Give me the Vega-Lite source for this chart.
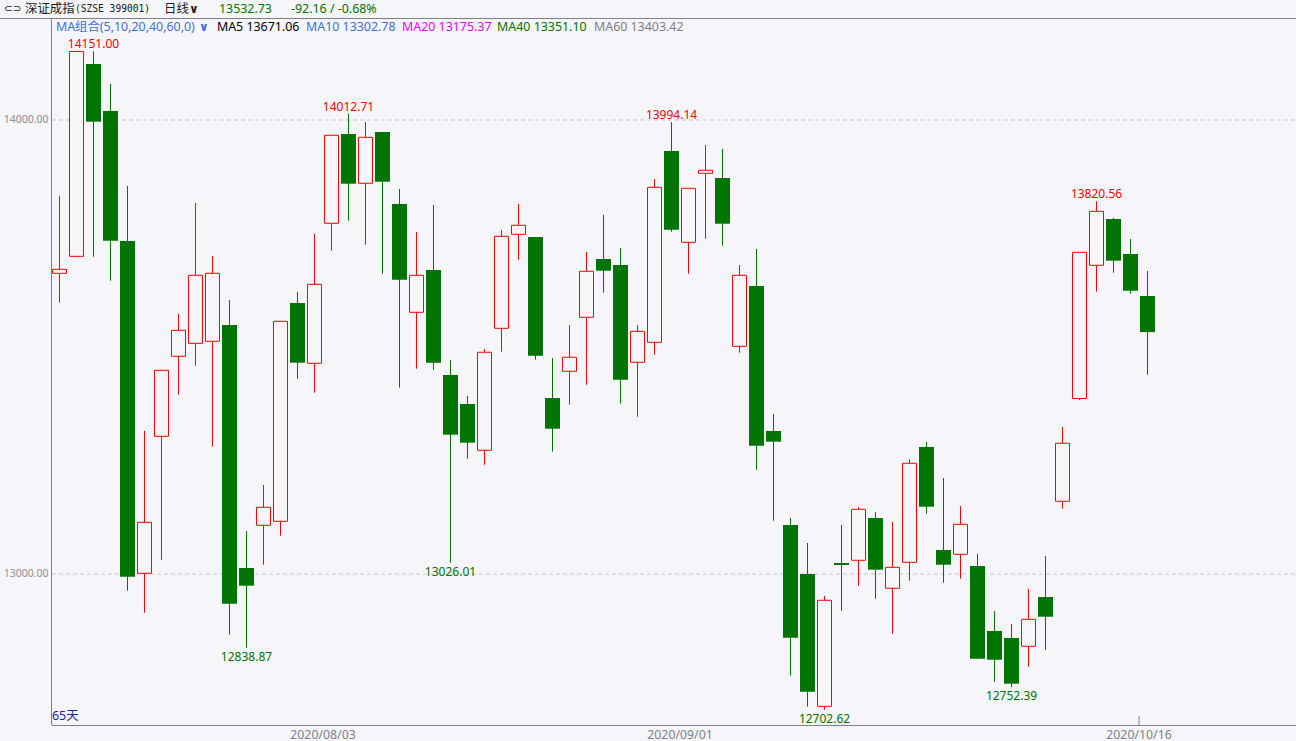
{"$schema":"https://vega.github.io/schema/vega-lite/v6.json","autosize":{"type":"none"},"padding":{"left":52,"top":18,"right":0,"bottom":16},"width":1244,"height":707,"background":"#f5f5fa","config":{"view":{"stroke":null},"axis":{"translate":0},"text":{"font":"Noto Sans"}},
"datasets":{"candles":[
{"n":0,"date":"2020-07-13","kind":"rise","o":13662.0,"h":13831.9,"l":13597.4,"c":13670.8},
{"n":1,"date":"2020-07-14","kind":"rise","o":13699.3,"h":14151.0,"l":13699.3,"c":14149.5},
{"n":2,"date":"2020-07-15","kind":"fall","o":14122.0,"h":14150.0,"l":13698.5,"c":13995.2},
{"n":3,"date":"2020-07-16","kind":"fall","o":14018.7,"h":14078.0,"l":13645.7,"c":13733.6},
{"n":4,"date":"2020-07-17","kind":"fall","o":13733.0,"h":13853.8,"l":12964.4,"c":12995.2},
{"n":5,"date":"2020-07-20","kind":"rise","o":13002.6,"h":13315.4,"l":12916.0,"c":13114.7},
{"n":6,"date":"2020-07-21","kind":"rise","o":13303.7,"h":13448.8,"l":13032.5,"c":13448.8},
{"n":7,"date":"2020-07-22","kind":"rise","o":13479.6,"h":13572.5,"l":13395.2,"c":13536.7},
{"n":8,"date":"2020-07-23","kind":"rise","o":13508.1,"h":13816.5,"l":13458.9,"c":13657.6},
{"n":9,"date":"2020-07-24","kind":"rise","o":13512.5,"h":13700.0,"l":13280.9,"c":13662.0},
{"n":10,"date":"2020-07-27","kind":"fall","o":13548.3,"h":13603.3,"l":12867.7,"c":12935.8},
{"n":11,"date":"2020-07-28","kind":"fall","o":13014.3,"h":13095.6,"l":12838.87,"c":12975.4},
{"n":12,"date":"2020-07-29","kind":"rise","o":13108.1,"h":13196.7,"l":13021.5,"c":13147.7},
{"n":13,"date":"2020-07-30","kind":"rise","o":13116.9,"h":13556.5,"l":13085.3,"c":13556.5},
{"n":14,"date":"2020-07-31","kind":"fall","o":13596.7,"h":13620.9,"l":13430.3,"c":13465.5},
{"n":15,"date":"2020-08-03","kind":"rise","o":13464.2,"h":13748.4,"l":13399.6,"c":13637.8},
{"n":16,"date":"2020-08-04","kind":"rise","o":13771.9,"h":13965.3,"l":13711.7,"c":13965.3},
{"n":17,"date":"2020-08-05","kind":"fall","o":13968.1,"h":14012.71,"l":13777.6,"c":13858.9},
{"n":18,"date":"2020-08-06","kind":"rise","o":13859.8,"h":13994.5,"l":13724.8,"c":13960.9},
{"n":19,"date":"2020-08-07","kind":"fall","o":13972.5,"h":13972.5,"l":13661.1,"c":13863.3},
{"n":20,"date":"2020-08-10","kind":"fall","o":13814.3,"h":13847.3,"l":13410.6,"c":13647.9},
{"n":21,"date":"2020-08-11","kind":"rise","o":13576.3,"h":13752.7,"l":13452.3,"c":13657.6},
{"n":22,"date":"2020-08-12","kind":"fall","o":13669.2,"h":13812.1,"l":13450.1,"c":13465.5},
{"n":23,"date":"2020-08-13","kind":"fall","o":13438.5,"h":13471.4,"l":13026.01,"c":13307.3},
{"n":24,"date":"2020-08-14","kind":"fall","o":13374.7,"h":13392.3,"l":13254.5,"c":13289.7},
{"n":25,"date":"2020-08-17","kind":"rise","o":13273.0,"h":13495.6,"l":13241.3,"c":13488.4},
{"n":26,"date":"2020-08-18","kind":"rise","o":13541.1,"h":13757.1,"l":13489.7,"c":13743.3},
{"n":27,"date":"2020-08-19","kind":"rise","o":13747.7,"h":13814.3,"l":13691.9,"c":13767.5},
{"n":28,"date":"2020-08-20","kind":"fall","o":13741.8,"h":13741.8,"l":13472.1,"c":13480.9},
{"n":29,"date":"2020-08-21","kind":"fall","o":13387.9,"h":13475.8,"l":13269.9,"c":13320.4},
{"n":30,"date":"2020-08-24","kind":"rise","o":13446.6,"h":13548.3,"l":13373.2,"c":13477.4},
{"n":31,"date":"2020-08-25","kind":"rise","o":13565.3,"h":13708.8,"l":13417.1,"c":13666.4},
{"n":32,"date":"2020-08-26","kind":"fall","o":13693.4,"h":13790.1,"l":13619.3,"c":13667.7},
{"n":33,"date":"2020-08-27","kind":"fall","o":13680.2,"h":13717.6,"l":13375.4,"c":13428.1},
{"n":34,"date":"2020-08-28","kind":"rise","o":13466.4,"h":13548.3,"l":13346.8,"c":13534.5},
{"n":35,"date":"2020-08-31","kind":"rise","o":13510.3,"h":13869.2,"l":13483.1,"c":13851.0},
{"n":36,"date":"2020-09-01","kind":"fall","o":13930.8,"h":13994.14,"l":13753.4,"c":13757.8},
{"n":37,"date":"2020-09-02","kind":"rise","o":13730.1,"h":13848.8,"l":13661.1,"c":13848.8},
{"n":38,"date":"2020-09-03","kind":"rise","o":13881.8,"h":13944.0,"l":13738.0,"c":13888.4},
{"n":39,"date":"2020-09-04","kind":"fall","o":13871.4,"h":13935.2,"l":13722.6,"c":13771.0},
{"n":40,"date":"2020-09-07","kind":"rise","o":13501.5,"h":13680.2,"l":13487.5,"c":13657.6},
{"n":41,"date":"2020-09-08","kind":"fall","o":13634.1,"h":13715.4,"l":13230.3,"c":13283.1},
{"n":42,"date":"2020-09-09","kind":"fall","o":13315.4,"h":13352.7,"l":13118.2,"c":13291.9},
{"n":43,"date":"2020-09-10","kind":"fall","o":13108.8,"h":13124.2,"l":12777.6,"c":12861.1},
{"n":44,"date":"2020-09-11","kind":"fall","o":13001.1,"h":13069.2,"l":12709.5,"c":12742.4},
{"n":45,"date":"2020-09-14","kind":"rise","o":12710.3,"h":12952.7,"l":12702.62,"c":12943.3},
{"n":46,"date":"2020-09-15","kind":"fall","o":13025.3,"h":13108.8,"l":12920.4,"c":13020.9},
{"n":47,"date":"2020-09-16","kind":"rise","o":13031.2,"h":13147.7,"l":12975.4,"c":13143.3},
{"n":48,"date":"2020-09-17","kind":"fall","o":13124.2,"h":13137.4,"l":12946.8,"c":13010.6},
{"n":49,"date":"2020-09-18","kind":"rise","o":12969.7,"h":13115.4,"l":12869.9,"c":13015.8},
{"n":50,"date":"2020-09-21","kind":"rise","o":13026.8,"h":13253.2,"l":12986.4,"c":13244.4},
{"n":51,"date":"2020-09-22","kind":"fall","o":13280.2,"h":13291.2,"l":13133.6,"c":13149.0},
{"n":52,"date":"2020-09-23","kind":"fall","o":13053.8,"h":13212.1,"l":12982.0,"c":13021.5},
{"n":53,"date":"2020-09-24","kind":"rise","o":13044.4,"h":13150.6,"l":12990.8,"c":13110.3},
{"n":54,"date":"2020-09-25","kind":"fall","o":13018.7,"h":13045.1,"l":12815.0,"c":12815.0},
{"n":55,"date":"2020-09-28","kind":"fall","o":12875.8,"h":12919.8,"l":12764.4,"c":12812.7},
{"n":56,"date":"2020-09-29","kind":"fall","o":12860.4,"h":12891.2,"l":12752.39,"c":12760.0},
{"n":57,"date":"2020-09-30","kind":"rise","o":12842.2,"h":12968.1,"l":12797.4,"c":12901.5},
{"n":58,"date":"2020-10-09","kind":"fall","o":12950.5,"h":13040.7,"l":12834.7,"c":12907.2},
{"n":59,"date":"2020-10-12","kind":"rise","o":13160.9,"h":13324.2,"l":13144.6,"c":13288.4},
{"n":60,"date":"2020-10-13","kind":"rise","o":13386.8,"h":13708.1,"l":13383.5,"c":13708.1},
{"n":61,"date":"2020-10-14","kind":"rise","o":13679.6,"h":13820.56,"l":13621.5,"c":13798.2},
{"n":62,"date":"2020-10-15","kind":"fall","o":13781.3,"h":13783.5,"l":13663.3,"c":13689.7},
{"n":63,"date":"2020-10-16","kind":"fall","o":13704.4,"h":13737.4,"l":13617.1,"c":13623.7},
{"n":64,"date":"2020-10-19","kind":"fall","o":13612.1,"h":13667.0,"l":13439.1,"c":13532.73}
],
"highs":[
{"n":2,"p":14151.0,"text":"14151.00","kind":"rise"},
{"n":17,"p":14012.71,"text":"14012.71","kind":"rise"},
{"n":36,"p":13994.14,"text":"13994.14","kind":"rise"},
{"n":61,"p":13820.56,"text":"13820.56","kind":"rise"}
],
"lows":[
{"n":23,"p":13026.01,"text":"13026.01","kind":"fall"},
{"n":11,"p":12838.87,"text":"12838.87","kind":"fall"},
{"n":45,"p":12702.62,"text":"12702.62","kind":"fall"},
{"n":56,"p":12752.39,"text":"12752.39","kind":"fall"}
],
"header":[
{"n":-2.03,"p":14242.9,"text":"深证成指","kind":"name"},
{"n":6.15,"p":14242.9,"text":"日线","kind":"name"},
{"n":9.38,"p":14242.9,"text":"13532.73","kind":"fall"},
{"n":13.62,"p":14242.9,"text":"-92.16 / -0.68%","kind":"fall"},
{"n":-0.21,"p":14204.4,"text":"MA组合(5,10,20,40,60,0)","kind":"ma"},
{"n":9.26,"p":14204.4,"text":"MA5 13671.06","kind":"ma5"},
{"n":14.5,"p":14204.4,"text":"MA10 13302.78","kind":"ma"},
{"n":20.15,"p":14204.4,"text":"MA20 13175.37","kind":"ma20"},
{"n":25.74,"p":14204.4,"text":"MA40 13351.10","kind":"fall"},
{"n":31.44,"p":14204.4,"text":"MA60 13403.42","kind":"ma60"},
{"n":-0.44,"p":12689,"text":"65天","kind":"count"}
],
"chevrons":[
{"n":7.62,"p":14242.9,"text":"∨","kind":"name"},
{"n":8.2,"p":14204.4,"text":"∨","kind":"ma"}
]},
"encoding":{
"x":{"field":"n","type":"quantitative","title":null,"scale":{"domain":[-0.441,72.735],"nice":false,"zero":false,"padding":0},"axis":{"values":[15.5,36.5,63.5],"labelExpr":"datum.value==15.5?'2020/08/03':datum.value==36.5?'2020/09/01':'2020/10/16'","grid":false,"ticks":false,"offset":0.5,"domainColor":"#80808a","labelColor":"#808088","labelFont":"Noto Sans","labelFontSize":12.3,"labelPadding":3}},
"y":{"type":"quantitative","title":null,"scale":{"domain":[12669.2,14223.1],"nice":false,"zero":false},"axis":{"values":[13000,14000],"format":".2f","grid":true,"gridColor":"#c4c4c8","gridDash":[4,3],"ticks":false,"offset":0.5,"domainColor":"#80808a","labelColor":"#909090","labelFont":"Noto Sans","labelFontSize":10.5,"labelPadding":3}},
"color":{"field":"kind","type":"nominal","legend":null,"scale":{"domain":["rise","fall","name","ma","ma5","ma20","ma60","count"],"range":["#ff0000","#007400","#222222","#4070e0","#000000","#ff00ff","#808080","#2020a0"]}}
},
"layer":[
{"data":{"values":[{"n":-3.5,"n2":72.735,"p":14222}]},"mark":{"type":"rule","color":"#80808a","strokeWidth":1},"encoding":{"x":{"field":"n","type":"quantitative"},"x2":{"field":"n2"},"y":{"field":"p","type":"quantitative"},"color":{"value":"#80808a"}}},
{"data":{"values":[{"n":63.5,"p":12669.2,"p2":12689}]},"mark":{"type":"rule","strokeWidth":1},"encoding":{"x":{"field":"n","type":"quantitative"},"y":{"field":"p","type":"quantitative"},"y2":{"field":"p2"},"color":{"value":"#80808a"}}},
{"data":{"name":"candles"},"mark":{"type":"rule","strokeWidth":1},"encoding":{"y":{"field":"l","type":"quantitative"},"y2":{"field":"h"}}},
{"data":{"name":"candles"},"transform":[{"filter":"datum.kind=='rise'"}],"mark":{"type":"bar","size":14,"fill":"#f5f5fa","stroke":"#ff0000","strokeWidth":1},"encoding":{"y":{"field":"o","type":"quantitative"},"y2":{"field":"c"},"color":{"value":null}}},
{"data":{"name":"candles"},"transform":[{"filter":"datum.kind=='fall'"}],"mark":{"type":"bar","size":15},"encoding":{"y":{"field":"o","type":"quantitative"},"y2":{"field":"c"}}},
{"data":{"name":"highs"},"mark":{"type":"text","dy":-7,"fontSize":12,"font":"Noto Sans"},"encoding":{"y":{"field":"p","type":"quantitative"},"text":{"field":"text"}}},
{"data":{"name":"lows"},"mark":{"type":"text","dy":9,"fontSize":12,"font":"Noto Sans"},"encoding":{"y":{"field":"p","type":"quantitative"},"text":{"field":"text"}}},
{"data":{"name":"header"},"mark":{"type":"text","align":"left","baseline":"middle","fontSize":12.4,"font":"Noto Sans, Noto Sans CJK SC"},"encoding":{"y":{"field":"p","type":"quantitative"},"text":{"field":"text"}}},
{"data":{"name":"chevrons"},"mark":{"type":"text","align":"left","baseline":"middle","fontSize":12,"fontWeight":"bold","font":"DejaVu Sans"},"encoding":{"y":{"field":"p","type":"quantitative"},"text":{"field":"text"}}},
{"data":{"values":[{"n":-3.26,"p":14242.9,"text":"⊂⊃","kind":"name"}]},"mark":{"type":"text","align":"left","baseline":"middle","fontSize":10.5,"font":"DejaVu Sans"},"encoding":{"y":{"field":"p","type":"quantitative"},"text":{"field":"text"}}},
{"data":{"values":[{"n":0.91,"p":14242.9,"text":"(SZSE 399001)","kind":"name"}]},"mark":{"type":"text","align":"left","baseline":"middle","fontSize":9.6,"font":"DejaVu Sans Mono"},"encoding":{"y":{"field":"p","type":"quantitative"},"text":{"field":"text"}}}
]}
